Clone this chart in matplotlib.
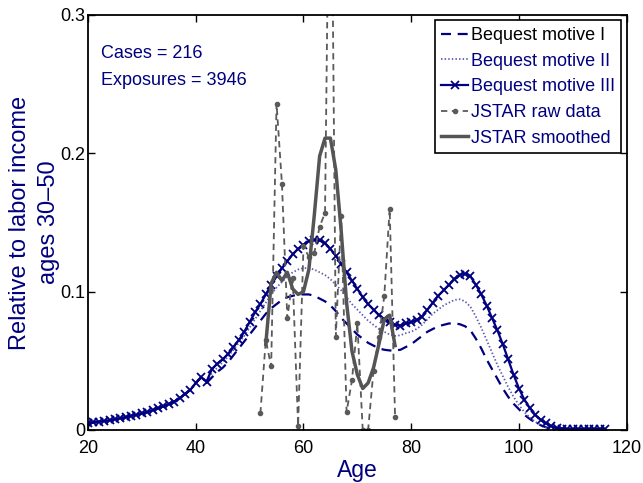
import matplotlib
matplotlib.use("Agg")
import matplotlib.pyplot as plt
import numpy as np

plt.rcParams['font.family'] = ['Liberation Sans', 'DejaVu Sans']

ages = list(range(20, 117))

bequest_III = [0.005, 0.0055, 0.006, 0.0065, 0.007, 0.0077, 0.0085, 0.0093, 0.0102, 0.011,
               0.012, 0.013, 0.0143, 0.0157, 0.017, 0.0187, 0.0205, 0.023, 0.026, 0.029,
               0.034, 0.038, 0.035, 0.044, 0.048, 0.051, 0.055, 0.060, 0.065, 0.071,
               0.078, 0.085, 0.091, 0.098, 0.105, 0.111, 0.117, 0.122, 0.127, 0.131,
               0.134, 0.1365, 0.1375, 0.137, 0.135, 0.131, 0.126, 0.120, 0.114, 0.108,
               0.102, 0.096, 0.091, 0.087, 0.083, 0.080, 0.078, 0.076, 0.0755, 0.077,
               0.078, 0.0795, 0.082, 0.087, 0.092, 0.097, 0.101, 0.105, 0.109, 0.112,
               0.113, 0.111, 0.105, 0.098, 0.090, 0.081, 0.072, 0.062, 0.051, 0.040,
               0.030, 0.022, 0.016, 0.011, 0.0075, 0.0048, 0.0028, 0.0015, 0.001, 0.0007,
               0.0007, 0.0007, 0.0007, 0.0007, 0.0007, 0.0007, 0.0007]

bequest_II = [0.005, 0.0055, 0.006, 0.0065, 0.007, 0.0077, 0.0085, 0.0093, 0.0102, 0.011,
              0.012, 0.013, 0.0143, 0.0157, 0.017, 0.0187, 0.0205, 0.023, 0.026, 0.029,
              0.034, 0.038, 0.035, 0.041, 0.045, 0.049, 0.053, 0.058, 0.063, 0.068,
              0.074, 0.080, 0.086, 0.092, 0.098, 0.103, 0.107, 0.111, 0.114, 0.116,
              0.117, 0.117, 0.116, 0.114, 0.112, 0.109, 0.105, 0.101, 0.096, 0.091,
              0.087, 0.083, 0.079, 0.076, 0.073, 0.071, 0.069, 0.068, 0.0685, 0.070,
              0.071, 0.073, 0.076, 0.080, 0.084, 0.087, 0.090, 0.092, 0.094, 0.0945,
              0.093, 0.089, 0.082, 0.074, 0.065, 0.056, 0.047, 0.039, 0.031, 0.024,
              0.018, 0.013, 0.009, 0.006, 0.0035, 0.002, 0.001, 0.0008, 0.0007, 0.0007,
              0.0007, 0.0007, 0.0007, 0.0007, 0.0007, 0.0007, 0.0007]

bequest_I = [0.005, 0.0055, 0.006, 0.0065, 0.007, 0.0077, 0.0085, 0.0093, 0.0102, 0.011,
             0.012, 0.013, 0.0143, 0.0157, 0.017, 0.0187, 0.0205, 0.023, 0.026, 0.029,
             0.034, 0.038, 0.034, 0.038, 0.042, 0.045, 0.049, 0.054, 0.059, 0.064,
             0.069, 0.074, 0.079, 0.084, 0.088, 0.091, 0.094, 0.096, 0.097, 0.098,
             0.098, 0.098, 0.097, 0.095, 0.093, 0.090, 0.086, 0.081, 0.077, 0.073,
             0.069, 0.066, 0.063, 0.061, 0.059, 0.058, 0.0575, 0.0575, 0.058, 0.060,
             0.062, 0.065, 0.068, 0.071, 0.073, 0.075, 0.076, 0.077, 0.077, 0.0765,
             0.075, 0.072, 0.066, 0.059, 0.051, 0.044, 0.037, 0.030, 0.024, 0.019,
             0.015, 0.011, 0.008, 0.0055, 0.0035, 0.002, 0.001, 0.0008, 0.0007, 0.0007,
             0.0007, 0.0007, 0.0007, 0.0007, 0.0007, 0.0007, 0.0007]

raw_ages = list(range(52, 78))
jstar_raw = [0.012, 0.065, 0.046, 0.236, 0.178, 0.081, 0.110, 0.003, 0.133, 0.125,
             0.128, 0.147, 0.157, 0.50, 0.0675, 0.155, 0.013, 0.036, 0.077, 0.0,
             0.0, 0.043, 0.067, 0.097, 0.160, 0.0096]

smooth_ages = list(range(53, 78))
jstar_smooth = [0.062, 0.106, 0.114, 0.108, 0.114, 0.102, 0.098, 0.100, 0.116, 0.155,
                0.198, 0.211, 0.211, 0.188, 0.144, 0.092, 0.057, 0.040, 0.030, 0.034,
                0.045, 0.062, 0.080, 0.083, 0.061]

xticks = [20, 40, 60, 80, 100, 120]
yticks = [0, 0.1, 0.2, 0.3]
ytick_labels = ["0", "0.1", "0.2", "0.3"]

navy = "#000080"
fig = plt.figure(figsize=(6.43, 4.83), dpi=100)
ax = fig.add_axes([88/643, 53/483, (626.7-88)/643, (430-15)/483])

ax.plot(ages, bequest_I, linestyle=(0, (4.5, 3)), color=navy, lw=1.6, label="Bequest motive I")
ax.plot(ages, bequest_II, linestyle=(0, (0.8, 1.2)), color="#5c5cb0", lw=1.3, label="Bequest motive II")
ax.plot(ages, bequest_III, '-', color=navy, lw=1.6, marker='x', ms=6, mew=1.3, label="Bequest motive III")
ax.plot(raw_ages, jstar_raw, linestyle=(0, (3.5, 2.5)), color="#5a5a5a", lw=1.3, marker='o', ms=3,
        label="JSTAR raw data")
ax.plot(smooth_ages, jstar_smooth, '-', color="#555555", lw=2.5, label="JSTAR smoothed")

ax.set_xlim(20, 120)
ax.set_ylim(0, 0.3)
ax.set_xticks(xticks)
ax.set_yticks(yticks)
ax.set_yticklabels(ytick_labels)
ax.tick_params(direction='in', top=True, right=True, labelsize=13, length=5, width=1)
ax.tick_params(axis='x', pad=7)
ax.tick_params(axis='y', pad=2)
for s in ax.spines.values():
    s.set_linewidth(1.3)

ax.set_xlabel("Age", color=navy, fontsize=16.5, labelpad=2)
ax.set_ylabel("Relative to labor income\nages 30\u201350", color=navy, fontsize=17, labelpad=0,
              linespacing=1.4)

ax.text(22.4, 0.272, "Cases = 216", color=navy, fontsize=13, va='center', ha='left')
ax.text(22.4, 0.253, "Exposures = 3946", color=navy, fontsize=13, va='center', ha='left')

leg = ax.legend(loc='upper right', fontsize=13, frameon=True, fancybox=False, framealpha=1,
                edgecolor='black', handlelength=1.5, handletextpad=0.12, borderpad=0.36,
                labelspacing=0.48, borderaxespad=0.3)
leg.get_frame().set_linewidth(1.2)
for i, t in enumerate(leg.get_texts()):
    t.set_color('black' if i == 0 else navy)

fig.savefig("out.png", dpi=100)
